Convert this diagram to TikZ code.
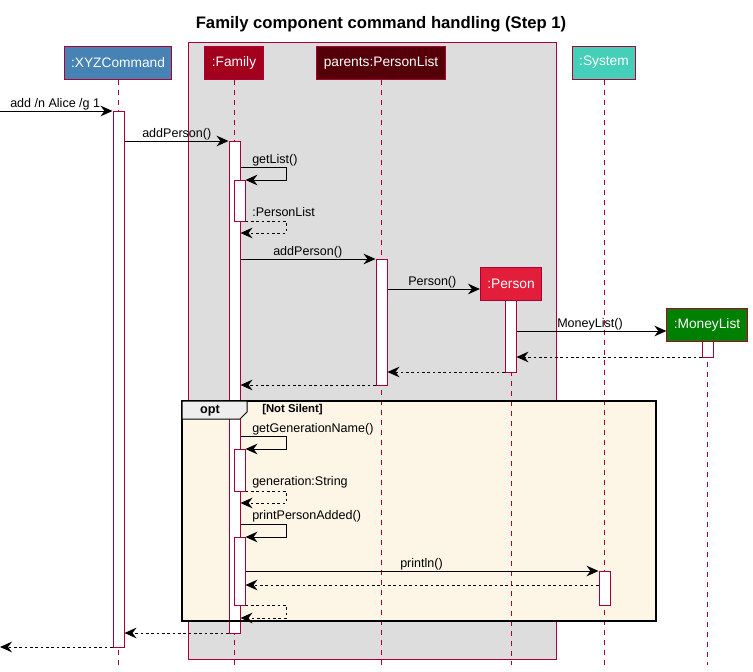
\documentclass[tikz,border=0pt]{standalone}
\usepackage{fontspec}
\setmainfont{Liberation Sans}
\usetikzlibrary{arrows.meta,fit}
\definecolor{crim}{HTML}{A80036}
\definecolor{boxgrey}{HTML}{DDDDDD}
\definecolor{cxyz}{HTML}{4682B4}
\definecolor{cfam}{HTML}{A2001D}
\definecolor{cplist}{HTML}{550008}
\definecolor{csys}{HTML}{46CFB8}
\definecolor{cperson}{HTML}{E31E3A}
\definecolor{cmoney}{HTML}{008000}
\definecolor{optfill}{HTML}{FDF5E6}
\definecolor{tabfill}{HTML}{EEEEEE}
\tikzset{
  part/.style={draw=crim, line width=0.75pt, text=white, font=\fontsize{10.3}{12}\selectfont,
    inner xsep=5.2pt, inner ysep=0pt, minimum height=24.75pt},
  life/.style={draw=crim, line width=0.75pt, dash pattern=on 3.75pt off 3.75pt},
  act/.style={draw=crim, fill=white, line width=0.75pt, inner sep=0pt},
  msg/.style={draw=black, line width=0.75pt, -{Stealth[length=9pt,width=8pt,inset=3pt]}},
  ret/.style={msg, dash pattern=on 2pt off 2pt},
  lbl/.style={anchor=base west, inner sep=0pt, font=\fontsize{9.4}{11}\selectfont},
}
\begin{document}
\begin{tikzpicture}[x=0.75pt,y=-0.75pt]
\useasboundingbox (0,0) rectangle (753,671);
% title
\node[font=\bfseries\fontsize{12.5}{14}\selectfont] (title) at (381,24) {Family component command handling (Step 1)};
% grey box
\draw[crim, fill=boxgrey, line width=0.75pt] (188,42) rectangle (556,659);
% opt fill
\fill[optfill] (182,401) rectangle (656,621);
% participants
\node[part, fill=cxyz] (xyz) at (118,62.5) {:XYZCommand};
\node[part, fill=cfam] (fam) at (234,62.5) {:Family};
\node[part, fill=cplist] (plist) at (381,62.5) {parents:PersonList};
\node[part, fill=csys] (sys) at (604,62.5) {:System};
\node[part, fill=cperson] (person) at (511,283.5) {:Person};
\node[part, fill=cmoney] (money) at (707,325) {:MoneyList};
% lifelines
\coordinate (endy) at (0,665);
\draw[life] (xyz.south) -- (xyz.south |- endy);
\draw[life] (fam.south) -- (fam.south |- endy);
\draw[life] (plist.south) -- (plist.south |- endy);
\draw[life] (sys.south) -- (sys.south |- endy);
\draw[life] (person.south) -- (person.south |- endy);
\draw[life] (money.south) -- (money.south |- endy);
% activations
\node[act, fit={(113,111)(124,647)}] (aX) {};
\node[act, fit={(229,141)(240,633)}] (aF) {};
\node[act, fit={(234,180)(245,221)}] (aF1) {};
\node[act, fit={(376,259)(387,385)}] (aP) {};
\node[act, fit={(505,300)(516,372)}] (aPe) {};
\node[act, fit={(702,341)(713,357)}] (aM) {};
\node[act, fit={(234,449)(245,491)}] (aF2) {};
\node[act, fit={(234,537)(245,605)}] (aF3) {};
\node[act, fit={(599,571)(610,605)}] (aS) {};
% messages
\coordinate (left1) at (0,111);
\draw[msg] (left1) -- (aX.west |- left1);
\node[lbl] (m1) at (10,107) {add /n Alice /g 1};
\draw[msg] (aX.east |- 0,141) -- (aF.west |- 0,141);
\node[lbl] (m2) at (142,137) {addPerson()};
\draw[msg] (aF.east |- 0,167) -- (286,167) -- (286,180) -- (aF1.east |- 0,180);
\node[lbl] (m3) at (252,163) {getList()};
\draw[ret] (aF1.east |- 0,221) -- (286,221) -- (286,233) -- (aF.east |- 0,233);
\node[lbl] (m4) at (252,216) {:PersonList};
\draw[msg] (aF.east |- 0,259) -- (aP.west |- 0,259);
\node[lbl] (m5) at (273,255) {addPerson()};
\draw[msg] (aP.east |- 0,289) -- (person.west |- 0,289);
\node[lbl] (m6) at (408,285) {Person()};
\draw[msg] (aPe.east |- 0,331) -- (money.west |- 0,331);
\node[lbl] (m7) at (557,327) {MoneyList()};
\draw[ret] (aM.west |- 0,357) -- (aPe.east |- 0,357);
\draw[ret] (aPe.west |- 0,372) -- (aP.east |- 0,372);
\draw[ret] (aP.west |- 0,385) -- (aF.east |- 0,385);
% opt contents
\draw[msg] (aF.east |- 0,436) -- (286,436) -- (286,449) -- (aF2.east |- 0,449);
\node[lbl] (m8) at (252,432) {getGenerationName()};
\draw[ret] (aF2.east |- 0,491) -- (286,491) -- (286,503) -- (aF.east |- 0,503);
\node[lbl] (m9) at (252,485) {generation:String};
\draw[msg] (aF.east |- 0,524) -- (286,524) -- (286,537) -- (aF3.east |- 0,537);
\node[lbl] (m10) at (252,519) {printPersonAdded()};
\draw[msg] (aF3.east |- 0,571) -- (aS.west |- 0,571);
\node[lbl] (m11) at (400,567) {println()};
\draw[ret] (aS.west |- 0,585) -- (aF3.east |- 0,585);
\draw[ret] (aF3.east |- 0,605) -- (286,605) -- (286,618) -- (aF.east |- 0,618);
\draw[ret] (aF.west |- 0,633) -- (aX.east |- 0,633);
\coordinate (left2) at (0,647);
\draw[ret] (aX.west |- left2) -- (left2);
% opt frame
\draw[black, line width=1.5pt] (182,401) rectangle (656,621);
\draw[black, fill=tabfill, line width=0.75pt] (182,401) -- (247,401) -- (247,412) -- (240,419) -- (182,419) -- cycle;
\node[font=\bfseries\fontsize{9.5}{11}\selectfont, inner sep=0pt] (optl) at (210,411) {opt};
\node[font=\bfseries\fontsize{8.5}{10}\selectfont, anchor=west, inner sep=0pt] (guard) at (262,410) {[Not Silent]};
\end{tikzpicture}
\end{document}
